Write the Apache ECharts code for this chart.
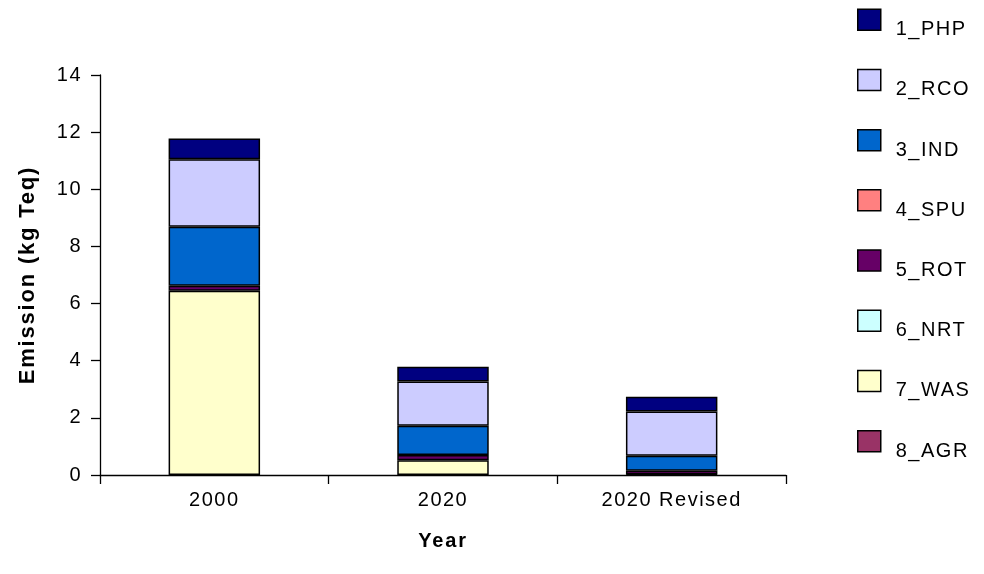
<!DOCTYPE html>
<html>
<head>
<meta charset="utf-8">
<script src="https://cdn.jsdelivr.net/npm/echarts@6/dist/echarts.min.js"></script>
<style>
  html, body { margin: 0; padding: 0; background: #ffffff; }
  #chart { width: 984px; height: 574px; }
</style>
</head>
<body>
<div id="chart"></div>
<script>
// Emission by sector, stacked per scenario year
const years = ['2000', '2020', '2020 Revised'];
const yTicks = [0, 2, 4, 6, 8, 10, 12, 14];

const php = [0.73, 0.52, 0.52];
const rco = [2.36, 1.55, 1.55];
const ind = [2.07, 1.02, 0.52];
const spu = [0, 0, 0];
const rot = [0.17, 0.18, 0.13];
const nrt = [0, 0, 0];
const was = [6.45, 0.52, 0.02];
const agr = [0, 0, 0];

// bottom-to-top stacking order
const stackOrder = [
  { name: '8_AGR', data: agr, color: '#993366' },
  { name: '7_WAS', data: was, color: '#FFFFCC' },
  { name: '6_NRT', data: nrt, color: '#CCFFFF' },
  { name: '5_ROT', data: rot, color: '#660066' },
  { name: '4_SPU', data: spu, color: '#FF8080' },
  { name: '3_IND', data: ind, color: '#0066CC' },
  { name: '2_RCO', data: rco, color: '#CCCCFF' },
  { name: '1_PHP', data: php, color: '#000080' }
];
const legendOrder = ['1_PHP', '2_RCO', '3_IND', '4_SPU', '5_ROT', '6_NRT', '7_WAS', '8_AGR'];

// Slightly tracked-out lettering for all canvas text
(function () {
  const proto = CanvasRenderingContext2D.prototype;
  const fontDesc = Object.getOwnPropertyDescriptor(proto, 'font');
  if (!fontDesc || !('letterSpacing' in proto)) return;
  Object.defineProperty(proto, 'font', {
    configurable: true,
    get() { return fontDesc.get.call(this); },
    set(v) {
      fontDesc.set.call(this, v);
      this.letterSpacing = /bold/.test(v) ? '1.8px' : '1.5px';
    }
  });
})();

const font = 'Liberation Sans, Arial, sans-serif';
const chart = echarts.init(document.getElementById('chart'), null, { renderer: 'canvas' });

chart.setOption({
  animation: false,
  backgroundColor: '#ffffff',
  textStyle: { fontFamily: font },
  grid: { left: 100, right: 198, top: 75, bottom: 99, containLabel: false },
  legend: {
    orient: 'vertical',
    left: 857,
    top: -1,
    padding: 0,
    itemWidth: 23,
    itemHeight: 21,
    itemGap: 18.7,
    data: legendOrder,
    icon: 'rect',
    itemStyle: { borderColor: '#000000', borderWidth: 1.5 },
    formatter: name => '{t|' + name + '}',
    textStyle: {
      fontFamily: font, fontSize: 20, color: '#000000',
      rich: {
        t: { fontFamily: font, fontSize: 20, color: '#000000', lineHeight: 22, padding: [20, 0, 0, 10] }
      }
    }
  },
  xAxis: {
    type: 'category',
    data: years,
    name: 'Year',
    nameLocation: 'middle',
    nameGap: 56,
    nameTextStyle: { fontFamily: font, fontSize: 20, fontWeight: 'bold', color: '#000' },
    axisLine: { lineStyle: { color: '#000', width: 1.3 } },
    axisTick: { show: true, alignWithLabel: false, length: 9, lineStyle: { color: '#000', width: 1.3 } },
    axisLabel: { fontFamily: font, fontSize: 20, color: '#000', margin: 15 }
  },
  yAxis: {
    type: 'value',
    min: yTicks[0],
    max: yTicks[yTicks.length - 1],
    interval: 2,
    name: 'Emission (kg Teq)',
    nameLocation: 'middle',
    nameGap: 60,
    nameRotate: 90,
    nameTextStyle: { fontFamily: font, fontSize: 22, fontWeight: 'bold', color: '#000' },
    axisLine: { show: true, lineStyle: { color: '#000', width: 1.3 } },
    axisTick: { show: true, length: 9, lineStyle: { color: '#000', width: 1.3 } },
    splitLine: { show: false },
    axisLabel: { fontFamily: font, fontSize: 20, color: '#000', margin: 18 }
  },
  series: stackOrder.map(s => ({
    name: s.name,
    type: 'bar',
    stack: 'total',
    barWidth: '40%',
    // empty sectors are left out so they draw no outline
    data: s.data.map(v => (v === 0 ? '-' : v)),
    itemStyle: { color: s.color, borderColor: '#000000', borderWidth: 1.5 }
  }))
});
</script>
</body>
</html>
